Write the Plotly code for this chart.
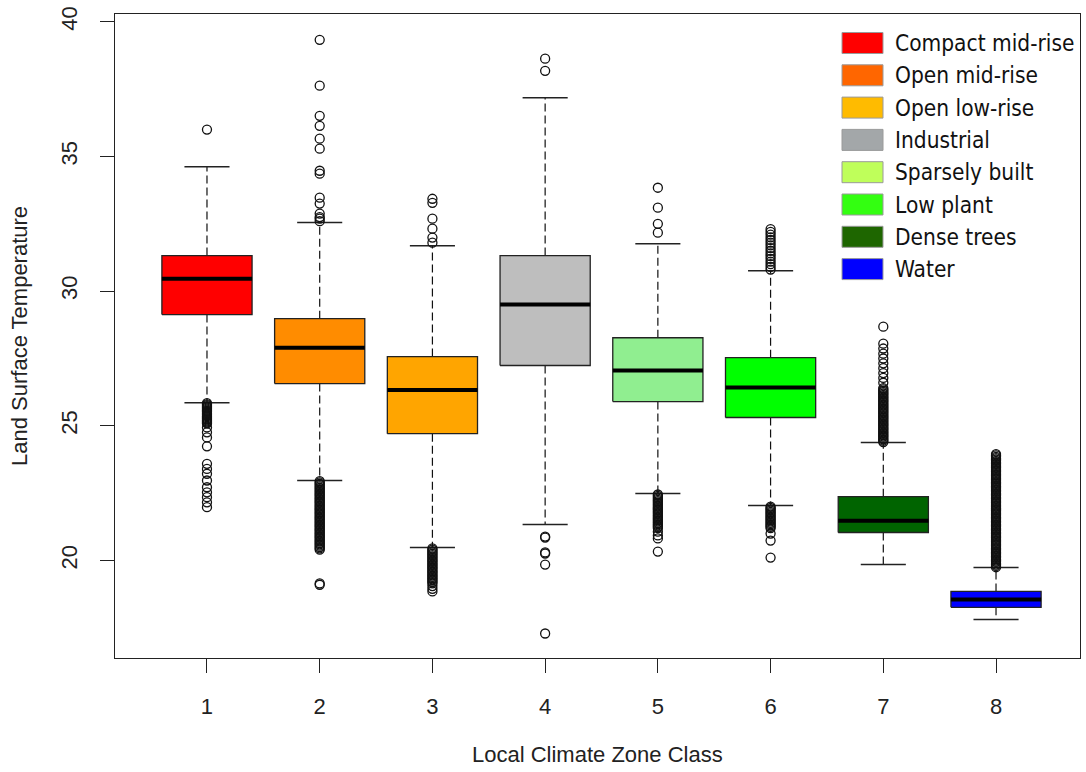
import plotly.graph_objects as go

# ---------------- data ----------------
classes = [1, 2, 3, 4, 5, 6, 7, 8]
q1 = [29.13, 26.57, 24.71, 27.24, 25.90, 25.31, 21.04, 18.26]
median = [30.46, 27.90, 26.33, 29.50, 27.05, 26.42, 21.48, 18.55]
q3 = [31.32, 28.98, 27.57, 31.32, 28.27, 27.53, 22.37, 18.85]
lower_whisker = [25.86, 22.97, 20.48, 21.34, 22.49, 22.04, 19.85, 17.81]
upper_whisker = [34.62, 32.55, 31.69, 37.18, 31.76, 30.76, 24.38, 19.74]
box_colors = ["#FF0000", "#FF8C00", "#FFA500", "#BEBEBE",
              "#90EE90", "#00FF00", "#006400", "#0000FF"]

out_1 = [36.0,
         25.84, 25.8, 25.76, 25.72, 25.68, 25.64, 25.6, 25.56, 25.52, 25.48, 25.44,
         25.4, 25.36, 25.32, 25.28, 25.24, 25.2, 25.16, 25.12, 25.09,
         24.94, 24.76, 24.57, 24.24, 23.59, 23.4, 23.22, 22.97, 22.72, 22.53,
         22.35, 22.16, 21.98]
out_2 = [39.33, 37.63, 36.51, 36.14, 35.66, 35.29, 34.47, 34.36, 33.47, 33.25,
         32.88, 32.75, 32.69, 32.6,
         22.95, 22.9, 22.85, 22.8, 22.75, 22.7, 22.65, 22.6, 22.55, 22.5, 22.45,
         22.4, 22.35, 22.3, 22.25, 22.2, 22.15, 22.1, 22.05, 22.0, 21.95, 21.9,
         21.85, 21.8, 21.75, 21.7, 21.65, 21.6, 21.55, 21.5, 21.45, 21.4, 21.35,
         21.3, 21.25, 21.2, 21.15, 21.1, 21.05, 21.0, 20.95, 20.9, 20.85, 20.8,
         20.75, 20.7, 20.65, 20.6, 20.55, 20.5, 20.45, 20.4,
         19.15, 19.1]
out_3 = [33.43, 33.28, 32.69, 32.32, 31.99, 31.8,
         20.45, 20.4, 20.35, 20.3, 20.25, 20.2, 20.15, 20.1, 20.05, 20.0, 19.95,
         19.9, 19.85, 19.8, 19.75, 19.7, 19.65, 19.6, 19.55, 19.5, 19.45, 19.4,
         19.35, 19.3, 19.25, 19.2, 19.15, 19.05, 18.95, 18.85]
out_4 = [38.63, 38.18, 20.89, 20.85, 20.3, 20.26, 19.85, 17.29]
out_5 = [33.84, 33.10, 32.5, 32.17,
         22.45, 22.4, 22.35, 22.3, 22.25, 22.2, 22.15, 22.1, 22.05, 22.0, 21.95,
         21.9, 21.85, 21.8, 21.75, 21.7, 21.65, 21.6, 21.55, 21.5, 21.45, 21.4,
         21.35, 21.3, 21.25, 21.2, 21.07, 20.93, 20.82, 20.33]
out_6 = [30.8, 30.9, 31.0, 31.1, 31.2, 31.3, 31.4, 31.5, 31.6, 31.7, 31.8, 31.9,
         32.0, 32.1, 32.2, 32.3,
         22.0, 21.95, 21.9, 21.85, 21.8, 21.75, 21.7, 21.65, 21.6, 21.55, 21.5,
         21.45, 21.4, 21.35, 21.3, 21.25, 21.2, 21.0, 20.74, 20.11]
out_7 = [24.4, 24.45, 24.5, 24.55, 24.6, 24.65, 24.7, 24.75, 24.8, 24.85, 24.9,
         24.95, 25.0, 25.05, 25.1, 25.15, 25.2, 25.25, 25.3, 25.35, 25.4, 25.45,
         25.5, 25.55, 25.6, 25.65, 25.7, 25.75, 25.8, 25.85, 25.9, 25.95, 26.0,
         26.05, 26.1, 26.15, 26.2, 26.25, 26.3, 26.35, 26.4,
         26.6, 26.78, 26.96, 27.14, 27.32, 27.5, 27.68, 27.87, 28.05, 28.68]
out_8 = [19.75, 19.8, 19.85, 19.9, 19.95, 20.0, 20.05, 20.1, 20.15, 20.2, 20.25,
         20.3, 20.35, 20.4, 20.45, 20.5, 20.55, 20.6, 20.65, 20.7, 20.75, 20.8,
         20.85, 20.9, 20.95, 21.0, 21.05, 21.1, 21.15, 21.2, 21.25, 21.3, 21.35,
         21.4, 21.45, 21.5, 21.55, 21.6, 21.65, 21.7, 21.75, 21.8, 21.85, 21.9,
         21.95, 22.0, 22.05, 22.1, 22.15, 22.2, 22.25, 22.3, 22.35, 22.4, 22.45,
         22.5, 22.55, 22.6, 22.65, 22.7, 22.75, 22.8, 22.85, 22.9, 22.95, 23.0,
         23.05, 23.1, 23.15, 23.2, 23.25, 23.3, 23.35, 23.4, 23.45, 23.5, 23.55,
         23.6, 23.65, 23.7, 23.75, 23.8, 23.85, 23.9, 23.95]
outliers = [out_1, out_2, out_3, out_4, out_5, out_6, out_7, out_8]

legend_labels = ["Compact mid-rise", "Open mid-rise", "Open low-rise", "Industrial",
                 "Sparsely built", "Low plant", "Dense trees", "Water"]
legend_colors = ["#FF0000", "#FF6600", "#FFBB00", "#A3A7A9",
                 "#BFFF5A", "#33FF11", "#1E6600", "#0000FF"]

x_tick_labels = ["1", "2", "3", "4", "5", "6", "7", "8"]
y_ticks = [20, 25, 30, 35, 40]

# ---------------- figure ----------------
BOX_HALF = 0.4
CAP_HALF = 0.2
EDGE = "#222222"

fig = go.Figure()

for i, cx in enumerate(classes):
    # dashed whiskers
    fig.add_trace(go.Scatter(
        x=[cx, cx, None, cx, cx],
        y=[q3[i], upper_whisker[i], None, q1[i], lower_whisker[i]],
        mode="lines", line=dict(color="#111111", width=1.2, dash="8px,4px"),
        hoverinfo="skip", showlegend=False))
    # staples
    fig.add_trace(go.Scatter(
        x=[cx - CAP_HALF, cx + CAP_HALF, None, cx - CAP_HALF, cx + CAP_HALF],
        y=[upper_whisker[i], upper_whisker[i], None, lower_whisker[i], lower_whisker[i]],
        mode="lines", line=dict(color=EDGE, width=1.5),
        hoverinfo="skip", showlegend=False))
    # box
    fig.add_trace(go.Scatter(
        x=[cx - BOX_HALF, cx + BOX_HALF, cx + BOX_HALF, cx - BOX_HALF, cx - BOX_HALF],
        y=[q1[i], q1[i], q3[i], q3[i], q1[i]],
        mode="lines", fill="toself", fillcolor=box_colors[i],
        line=dict(color=EDGE, width=1.3),
        hoverinfo="skip", showlegend=False))
    # median
    fig.add_trace(go.Scatter(
        x=[cx - BOX_HALF, cx + BOX_HALF], y=[median[i], median[i]],
        mode="lines", line=dict(color="#000000", width=4),
        hoverinfo="skip", showlegend=False))
    # outliers
    fig.add_trace(go.Scatter(
        x=[cx] * len(outliers[i]), y=outliers[i], mode="markers",
        marker=dict(symbol="circle-open", size=9, color="#111111",
                    line=dict(width=1.3, color="#111111")),
        hoverinfo="skip", showlegend=False))

# ---------------- layout ----------------
L, R, T, B = 115, 6, 14, 114
W, H = 1086, 772
pw, ph = W - L - R, H - T - B

axis_font = dict(family="Liberation Sans, Arial, sans-serif", size=22, color="#222222")

fig.update_layout(
    width=W, height=H,
    margin=dict(l=L, r=R, t=T, b=B, pad=0),
    paper_bgcolor="white", plot_bgcolor="white",
    showlegend=False,
    xaxis=dict(range=[0.184, 8.745], tickvals=classes, ticktext=x_tick_labels,
               showgrid=False, zeroline=False, showline=True, mirror=True,
               linecolor=EDGE, linewidth=1.2, ticks="outside", ticklen=14,
               tickcolor=EDGE, tickwidth=1.2, tickfont=axis_font,
               ticklabelstandoff=14),
    yaxis=dict(range=[16.38, 40.29], tickvals=y_ticks,
               ticktext=[str(v) for v in y_ticks], tickangle=-90,
               showgrid=False, zeroline=False, showline=True, mirror=True,
               linecolor=EDGE, linewidth=1.2, ticks="outside", ticklen=14,
               tickcolor=EDGE, tickwidth=1.2, tickfont=axis_font,
               ticklabelstandoff=14),
)

# axis titles
fig.add_annotation(text="Local Climate Zone Class", xref="paper", yref="paper",
                   x=0.5, y=-(754 - (T + ph)) / ph,
                   xanchor="center", yanchor="middle", showarrow=False, font=axis_font)
fig.add_annotation(text="Land Surface Temperature", xref="paper", yref="paper",
                   x=(19 - L) / pw, y=0.5, textangle=-90,
                   xanchor="center", yanchor="middle", showarrow=False, font=axis_font)

# legend (manual, in paper coordinates)
leg_font = dict(family="DejaVu Sans Condensed, DejaVu Sans, sans-serif", size=22.5,
                color="#111111")
for k, (lab, col) in enumerate(zip(legend_labels, legend_colors)):
    yc = 43 + 32.3 * k
    fig.add_shape(type="rect", xref="paper", yref="paper",
                  x0=(842 - L) / pw, x1=(883 - L) / pw,
                  y0=(T + ph - (yc + 10.5)) / ph, y1=(T + ph - (yc - 10.5)) / ph,
                  fillcolor=col, line=dict(color="#9A9A9A", width=1))
    fig.add_annotation(text=lab, xref="paper", yref="paper",
                       x=(893 - L) / pw, y=(T + ph - yc) / ph,
                       xanchor="left", yanchor="middle", showarrow=False, font=leg_font)

fig.write_html("out.html")
